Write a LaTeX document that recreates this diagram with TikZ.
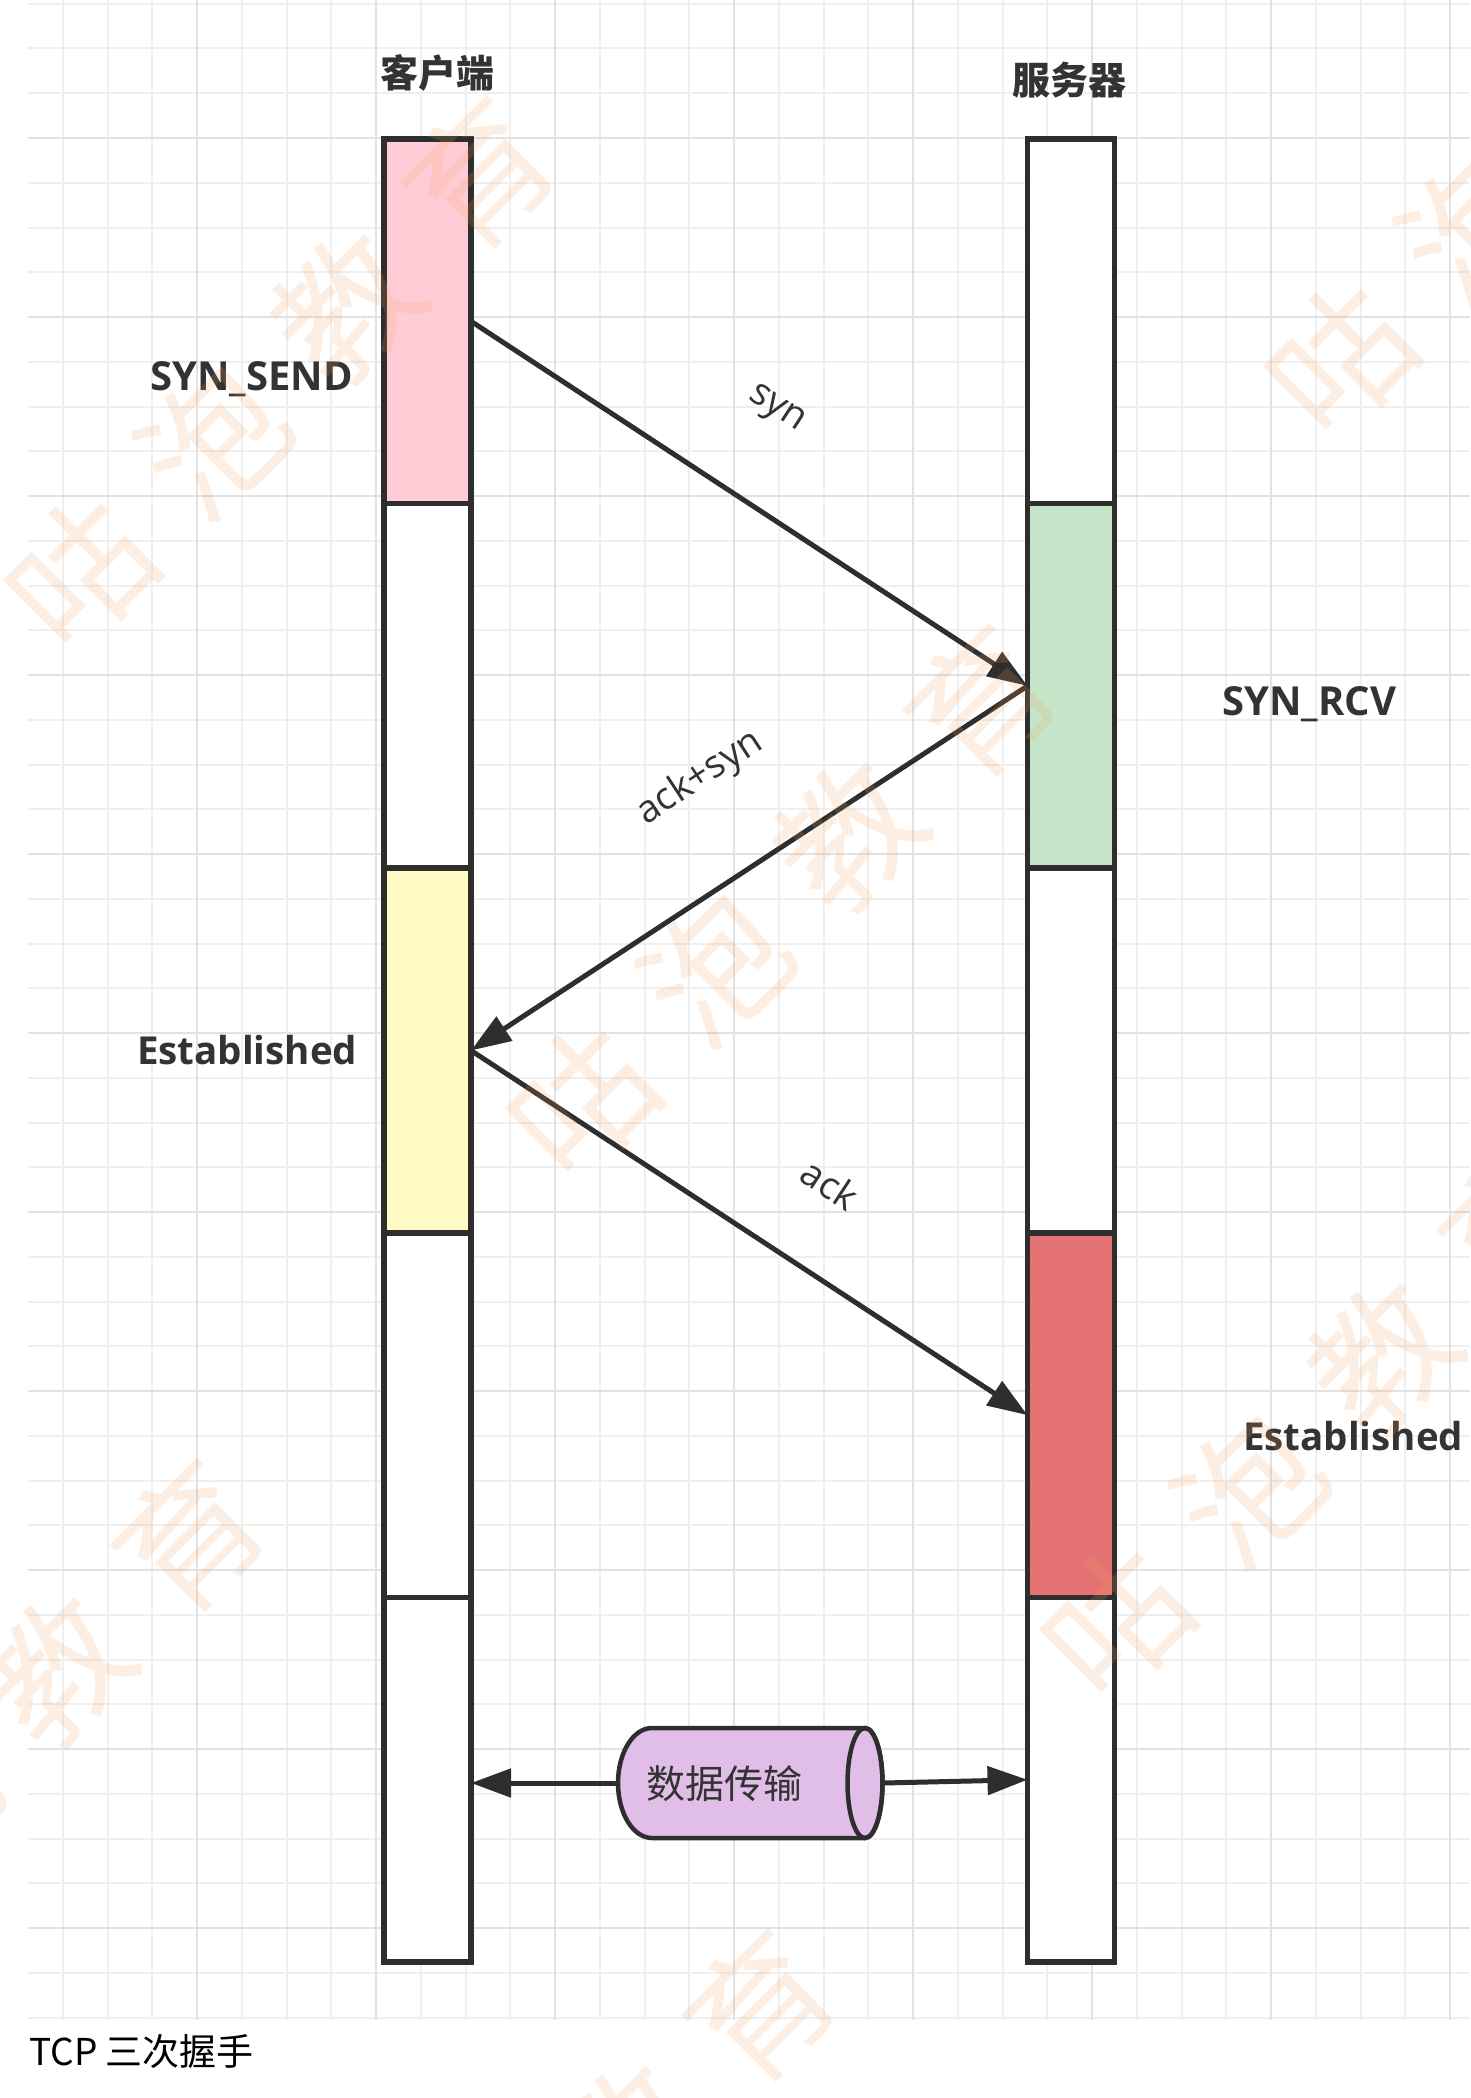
\documentclass[tikz,border=0pt]{standalone}
\usepackage{fontspec}
\setmainfont{Open Sans}
\newfontfamily\cjk{Noto Sans CJK SC}
\usetikzlibrary{arrows.meta}
\definecolor{linec}{HTML}{2E2E2E}
\definecolor{textc}{HTML}{333333}
\definecolor{pinkf}{HTML}{FFCCD5}
\definecolor{greenf}{HTML}{C6E5C8}
\definecolor{yellowf}{HTML}{FFF9C4}
\definecolor{redf}{HTML}{E57373}
\definecolor{lilacf}{HTML}{E1BEE7}
\definecolor{gminor}{HTML}{EFEFEF}
\definecolor{gmajor}{HTML}{E2E2E2}
\definecolor{wmark}{HTML}{F5A05A}
\begin{document}
\begin{tikzpicture}[x=1pt,y=-1pt,
  seg/.style={draw=linec, line width=5.5pt, minimum width=87pt, minimum height=364.6pt, inner sep=0pt, outer sep=0pt},
  arr/.style={draw=linec, line width=5pt, -{Triangle[length=40pt,width=28pt]}},
  statelbl/.style={font=\fontsize{40}{44}\selectfont\bfseries, text=textc, inner sep=0pt},
  estlbl/.style={font=\fontsize{38.5}{44}\selectfont\bfseries, text=textc, inner sep=0pt},
  titlelbl/.style={font=\cjk\fontsize{38}{44}\selectfont\bfseries, text=textc, inner sep=0pt, anchor=base},
  msglbl/.style={font=\fontsize{38}{42}\selectfont, text=textc, inner sep=0pt},
  gridminor/.style={draw=gminor, line width=2pt},
  gridmajor/.style={draw=gmajor, line width=2pt},
  wm/.style={font=\cjk\fontsize{140}{150}\selectfont, text=wmark, text opacity=0.17, inner sep=0pt, rotate=45}
]
\useasboundingbox (0,0) rectangle (1470,2098);
\fill[white] (0,0) rectangle (1470,2098);
% grid
\foreach \i in {-3,...,28} \draw[gridminor] ({197+44.75*\i},0) -- ({197+44.75*\i},2020);
\foreach \j in {-3,...,42} \draw[gridminor] (28,{138+44.75*\j}) -- (1470,{138+44.75*\j});
\foreach \i in {0,4,...,28} \draw[gridmajor] ({197+44.75*\i},0) -- ({197+44.75*\i},2020);
\foreach \j in {0,4,...,40} \draw[gridmajor] (28,{138+44.75*\j}) -- (1470,{138+44.75*\j});

% titles
\node[titlelbl] (tclient) at (437,88) {客户端};
\node[titlelbl] (tserver) at (1069,95) {服务器};

% client bar
\node[seg, fill=pinkf]   (c1) at (427.5,321.3) {};
\node[seg, fill=white]   (c2) at (427.5,685.9) {};
\node[seg, fill=yellowf] (c3) at (427.5,1050.5) {};
\node[seg, fill=white]   (c4) at (427.5,1415.1) {};
\node[seg, fill=white]   (c5) at (427.5,1779.7) {};
% server bar
\node[seg, fill=white]   (s1) at (1071,321.3) {};
\node[seg, fill=greenf]  (s2) at (1071,685.9) {};
\node[seg, fill=white]   (s3) at (1071,1050.5) {};
\node[seg, fill=redf]    (s4) at (1071,1415.1) {};
\node[seg, fill=white]   (s5) at (1071,1779.7) {};

% state labels
\node[statelbl, anchor=base west] (lsend) at (150,390) {SYN\_SEND};
\node[statelbl, anchor=base west] (lrcv) at (1222,715) {SYN\_RCV};
\node[estlbl, anchor=base west] (lest1) at (137,1064) {Established};
\node[estlbl, anchor=base west] (lest2) at (1243,1450) {Established};

% handshake arrows
\draw[arr] (c1.east) -- (s2.west);
\draw[arr] (s2.west) -- (c3.east);
\draw[arr] (c3.east) -- (s4.west);
\node[msglbl, rotate=-33.3] (msyn) at (776,410) {syn};
\node[msglbl, rotate=33.3] (mackc) at (700,778) {ack+syn};
\node[msglbl, rotate=-33.3] (mack) at (830,1184) {ack};

% data transfer cylinder
\node[minimum width=265pt, minimum height=110pt, inner sep=0pt, outer sep=0pt] (cyl) at (750.5,1783) {};
\filldraw[fill=lilacf, draw=linec, line width=4.5pt]
  (652,1728) -- (865,1728)
  .. controls (874.7,1728) and (882.5,1752.6) .. (882.5,1783)
  .. controls (882.5,1813.4) and (874.7,1838) .. (865,1838)
  -- (652,1838)
  .. controls (633.2,1838) and (618,1813.4) .. (618,1783)
  .. controls (618,1752.6) and (633.2,1728) .. cycle;
\draw[draw=linec, line width=4.5pt] (865,1783) ellipse [x radius=17.5pt, y radius=55pt];
\node[font=\cjk\fontsize{39}{44}\selectfont, text=textc, inner sep=0pt, anchor=base] (dt) at (724,1798) {数据传输};
\draw[arr] (cyl.west) -- (cyl.west -| c5.east);
\draw[arr] (cyl.east) -- (s5.west);

% caption
\node[font=\cjk\fontsize{37}{42}\selectfont, text=black, inner sep=0pt, anchor=base west] (cap) at (29,2065) {TCP 三次握手};

% watermarks
\node[wm] (w1) at (280,374) {咕\hspace{48pt}泡\hspace{48pt}教\hspace{48pt}育};
\node[wm] (w2) at (782,902) {咕\hspace{48pt}泡\hspace{48pt}教\hspace{48pt}育};
\node[wm] (w3) at (1540,160) {咕\hspace{48pt}泡\hspace{48pt}教\hspace{48pt}育};
\node[wm] (w4) at (-10,1737) {咕\hspace{48pt}泡\hspace{48pt}教\hspace{48pt}育};
\node[wm] (w5) at (1316,1423) {咕\hspace{48pt}泡\hspace{48pt}教\hspace{48pt}育};
\node[wm] (w6) at (561,2206) {咕\hspace{48pt}泡\hspace{48pt}教\hspace{48pt}育};
\end{tikzpicture}
\end{document}
